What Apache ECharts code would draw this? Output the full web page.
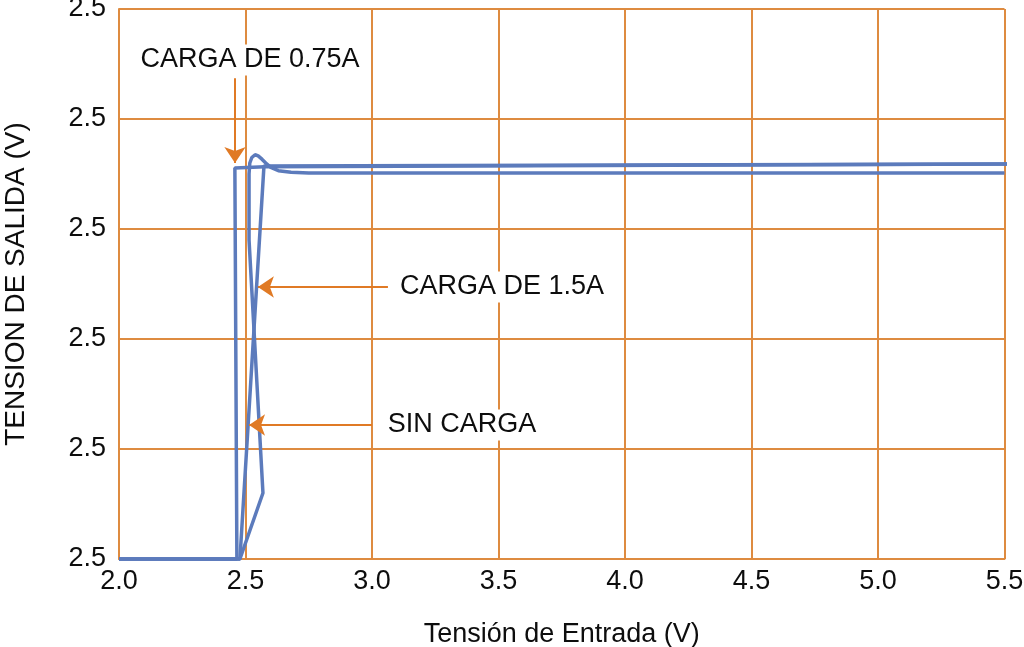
<!DOCTYPE html>
<html>
	<head>
		<meta charset="UTF-8">
		<title></title>
		<style>
			html, body { margin: 0; padding: 0; background: #fff; }
			#chart { width: 1024px; height: 647px; }
		</style>
	</head>
	<body>
		<div id="chart"></div>
		<script type="text/javascript" src="https://cdn.jsdelivr.net/npm/echarts@6/dist/echarts.min.js"></script>
		<script>
			// 数据：x = 输入电压 (V)，y = 输出电压（按格计，0..5）
			var xTickLabels = ['2.0', '2.5', '3.0', '3.5', '4.0', '4.5', '5.0', '5.5'];
			var yTickLabels = ['2.5', '2.5', '2.5', '2.5', '2.5', '2.5'];

			// CARGA DE 0.75A
			var carga075 = [[2.0, 0], [2.466, 0], [2.458, 3.555], [2.577, 3.565], [5.52, 3.59]];
			// SIN CARGA
			var sinCarga = [[2.0, 0], [2.478, 0], [2.573, 3.573], [5.52, 3.59]];
			// CARGA DE 1.5A
			var carga15 = [[2.0, 0], [2.478, 0], [2.569, 0.6], [2.514, 2.9], [2.514, 3.5],
				[2.517, 3.6], [2.525, 3.65], [2.538, 3.675], [2.55, 3.665], [2.565, 3.635],
				[2.58, 3.6], [2.60, 3.56], [2.63, 3.53], [2.68, 3.515], [2.75, 3.51], [5.5, 3.51]];

			// 注释文字和箭头
			var notas = ['CARGA DE 0.75A', 'CARGA DE 1.5A', 'SIN CARGA'];
			var notaPos = [[2.518, 4.536], [3.514, 2.473], [3.356, 1.218]];
			var flechas = [
				[[2.4585, 4.37], [2.4585, 3.60]],
				[[3.063, 2.473], [2.549, 2.473]],
				[[3.0, 1.218], [2.514, 1.218]]
			];

			var naranja = '#DE8B40';
			var flechaColor = '#E07A25';
			var azul = '#5C7BBC';
			var texto = '#0d0d0d';
			var fuente = '"Liberation Sans", Arial, sans-serif';

			var chart = echarts.init(document.getElementById('chart'));

			var lineaBase = {
				type: 'line',
				showSymbol: false,
				symbol: 'none',
				clip: false,
				lineStyle: { color: azul, width: 3.5 },
				silent: true
			};

			var option = {
				animation: false,
				backgroundColor: '#fff',
				textStyle: { fontFamily: fuente },
				grid: { left: 119, right: 19.5, top: 9, bottom: 88, outerBoundsMode: 'none', containLabel: false },
				xAxis: {
					type: 'value',
					min: 2.0, max: 5.5, interval: 0.5,
					name: 'Tensión de Entrada (V)',
					nameLocation: 'middle',
					nameGap: 62,
					nameTextStyle: { fontSize: 27, color: texto, fontFamily: fuente },
					axisLine: { show: true, lineStyle: { color: naranja, width: 2 } },
					axisTick: { show: false },
					axisLabel: {
						fontSize: 27, color: texto, margin: 9, fontFamily: fuente,
						formatter: function (v) { return xTickLabels[Math.round((v - 2.0) / 0.5)]; }
					},
					splitLine: { show: true, lineStyle: { color: naranja, width: 2 } }
				},
				yAxis: {
					type: 'value',
					min: 0, max: 5, interval: 1,
					name: 'TENSION DE SALIDA (V)',
					nameLocation: 'middle',
					nameGap: 89,
					nameTextStyle: { fontSize: 28, color: texto, fontFamily: fuente },
					axisLine: { show: true, lineStyle: { color: naranja, width: 2 } },
					axisTick: { show: false },
					axisLabel: {
						fontSize: 27, color: texto, margin: 13, fontFamily: fuente,
						formatter: function (v) { return yTickLabels[Math.round(v)]; }
					},
					splitLine: { show: true, lineStyle: { color: naranja, width: 2 } }
				},
				series: [
					Object.assign({}, lineaBase, { name: 'CARGA DE 0.75A', data: carga075 }),
					Object.assign({}, lineaBase, { name: 'SIN CARGA', data: sinCarga }),
					Object.assign({}, lineaBase, { name: 'CARGA DE 1.5A', data: carga15 }),
					{
						type: 'line',
						name: 'notas',
						data: [],
						silent: true,
						markLine: {
							silent: true,
							symbol: ['none', 'arrow'],
							symbolSize: 16,
							label: { show: false },
							lineStyle: { color: flechaColor, width: 2, type: 'solid' },
							data: flechas.map(function (f) {
								return [{ coord: f[0] }, { coord: f[1] }];
							})
						},
						markPoint: {
							silent: true,
							symbol: 'rect',
							symbolSize: 0,
							data: notas.map(function (t, i) {
								return {
									coord: notaPos[i],
									label: {
										show: true,
										position: 'inside',
										formatter: t,
										fontSize: 27,
										color: texto,
										fontFamily: fuente,
										backgroundColor: '#fff',
										padding: [2, 4]
									}
								};
							})
						}
					}
				]
			};

			chart.setOption(option);
		</script>
	</body>
</html>
